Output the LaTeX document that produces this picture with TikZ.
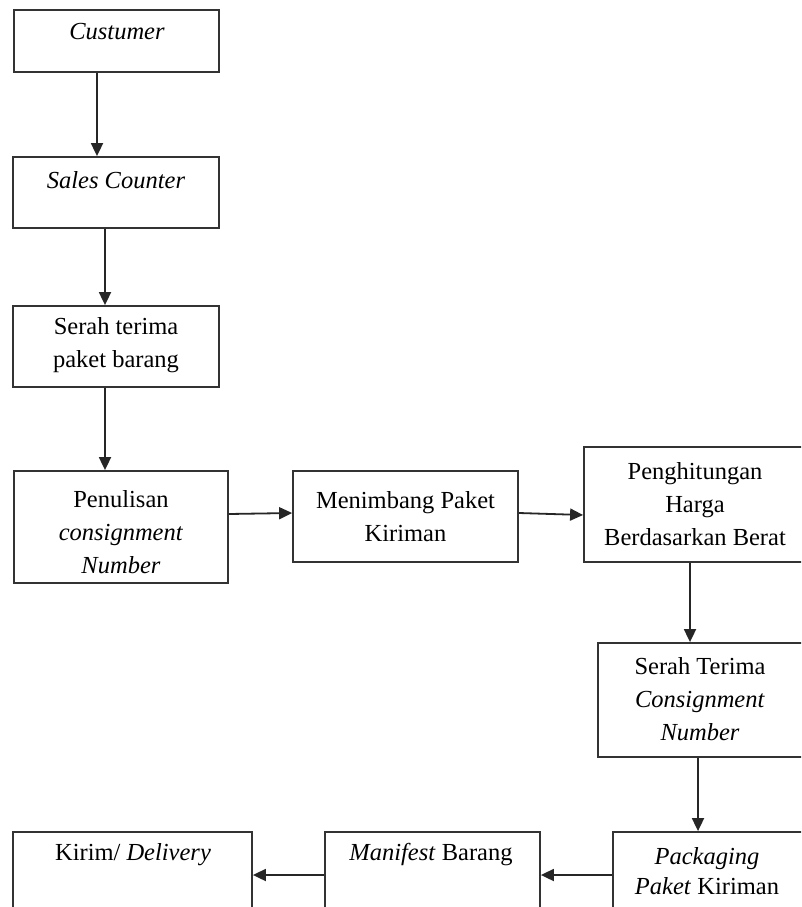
\documentclass[tikz,border=0pt]{standalone}
\usepackage{fontspec}
\setmainfont{Liberation Serif}
\usetikzlibrary{arrows.meta}
\begin{document}
\begin{tikzpicture}[x=1pt,y=-1pt,
  box/.style={draw=black!80, line width=1.8pt, rectangle, inner sep=0pt},
  lbl/.style={align=center, inner sep=0pt, font=\fontsize{24.5}{33}\selectfont},
  arr/.style={draw=black!85, line width=1.8pt, -{Triangle[length=13pt,width=12pt]}}]
\useasboundingbox (0,0) rectangle (801,907);
\clip (0,0) rectangle (801,907);
\fill[white] (0,0) rectangle (801,907);
% boxes
\node[box, minimum width=205pt, minimum height=62pt] (cust) at (116.5,41) {};
\node[box, minimum width=206pt, minimum height=71pt] (sales) at (116,192.5) {};
\node[box, minimum width=206pt, minimum height=81pt] (serah) at (116,346.5) {};
\node[box, minimum width=214pt, minimum height=112pt] (penul) at (121,527) {};
\node[box, minimum width=225pt, minimum height=91pt] (menim) at (405.5,516.5) {};
\node[box, minimum width=236pt, minimum height=115pt] (hitung) at (702,504.5) {};
\node[box, minimum width=220pt, minimum height=114pt] (sterima) at (708,700) {};
\node[box, minimum width=204pt, minimum height=118pt] (pack) at (715,891) {};
\node[box, minimum width=215pt, minimum height=118pt] (manif) at (432.5,891) {};
\node[box, minimum width=239pt, minimum height=118pt] (kirim) at (132.5,891) {};
% texts
\node[lbl] (tcust) at (117,32) {\textit{Custumer}};
\node[lbl] (tsales) at (116,180) {\textit{Sales Counter}};
\node[lbl] (tserah) at (116,345) {Serah terima\\paket barang};
\node[lbl] (tpenul) at (121,532) {Penulisan\\\textit{consignment}\\\textit{Number}};
\node[lbl] (tmenim) at (405.5,517) {Menimbang Paket\\Kiriman};
\node[lbl] (thitung) at (695,504) {Penghitungan\\Harga\\Berdasarkan Berat};
\node[lbl] (tsterima) at (700,699) {Serah Terima\\\textit{Consignment}\\\textit{Number}};
\node[lbl, font=\fontsize{24.5}{30}\selectfont] (tpack) at (707,871) {\textit{Packaging}\\\textit{Paket} Kiriman};
\node[lbl] (tmanif) at (431,855) {\textit{Manifest} Barang};
\node[lbl] (tkirim) at (133,855) {Kirim/ \textit{Delivery}};
% guide coordinates
\coordinate (xa) at (97,0);
\coordinate (xb) at (105,0);
\coordinate (xc) at (690,0);
\coordinate (xd) at (698,0);
\coordinate (ya) at (0,514);
\coordinate (yb) at (0,513);
\coordinate (yc) at (0,515);
\coordinate (yd) at (0,875);
% connectors
\draw[arr] (cust.south -| xa) -- (sales.north -| xa);
\draw[arr] (sales.south -| xb) -- (serah.north -| xb);
\draw[arr] (serah.south -| xb) -- (penul.north -| xb);
\draw[arr] (penul.east |- ya) -- (menim.west |- yb);
\draw[arr] (menim.east |- yb) -- (hitung.west |- yc);
\draw[arr] (hitung.south -| xc) -- (sterima.north -| xc);
\draw[arr] (sterima.south -| xd) -- (pack.north -| xd);
\draw[arr] (pack.west |- yd) -- (manif.east |- yd);
\draw[arr] (manif.west |- yd) -- (kirim.east |- yd);
\end{tikzpicture}
\end{document}
